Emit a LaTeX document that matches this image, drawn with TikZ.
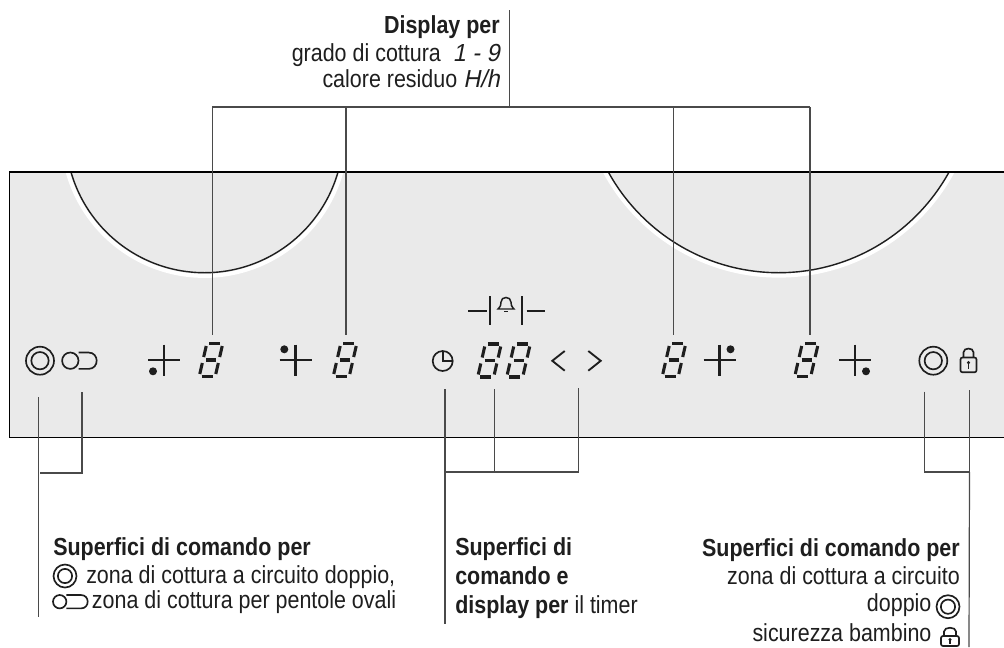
\documentclass[tikz,border=0pt]{standalone}
\usepackage{fontspec}
\setmainfont{Liberation Sans}[FakeStretch=0.87]
\newfontfamily\segfont{Liberation Sans}[FakeSlant=0.2,FakeStretch=0.95]
\definecolor{panel}{HTML}{EAEAEA}
\definecolor{ink}{HTML}{1E1E1E}
\definecolor{conn}{HTML}{4A4A4A}
\newcommand{\ringglyph}[3]{%
  \draw[sym] (#1,#2) circle [radius=#3*0.75pt];
  \draw[sym] (#1,#2) circle [radius=#3*0.62*0.75pt];}
\newcommand{\ovalglyph}[4]{% x of circle centre, y, radius, x of pill end centre
  \draw[sym] (#1,#2) circle [radius=#3*0.75pt];
  \draw[sym] (#1+#3,#2-#3) -- (#4,#2-#3) .. controls (#4+#3*1.33,#2-#3) and (#4+#3*1.33,#2+#3) .. (#4,#2+#3) -- (#1+#3,#2+#3);}
\newcommand{\lockglyph}[5]{% left, right, body top, body bottom, shackle top
  \draw[sym,rounded corners=1.5pt] (#1,#3) rectangle (#2,#4);
  \draw[sym] (#1+3,#3) -- (#1+3,#5+4) .. controls (#1+3,#5-1) and (#2-3,#5-1) .. (#2-3,#5+4) -- (#2-3,#3);
  \fill[ink] ({(#1+#2)/2},{#3+(#4-#3)*0.35}) circle [radius=1.3pt];
  \draw[ink,line width=1pt] ({(#1+#2)/2},{#3+(#4-#3)*0.35}) -- ({(#1+#2)/2},{#3+(#4-#3)*0.75});}
\tikzset{
  x=0.75pt,y=-0.75pt,
  conn line/.style={draw=conn,line width=0.9pt},
  sym/.style={draw=ink,line width=1.25pt},
  txt/.style={inner sep=0pt,text=ink,font=\fontsize{18.5}{22}\selectfont},
  txtL/.style={txt,anchor=base west},
  txtR/.style={txt,anchor=base east},
  digit/.pic={
    \begin{scope}[xslant=0.23,line width=2.3pt,draw=ink]
      \draw (-5.5,-16.5) -- (5.5,-16.5);
      \draw (-5,0) -- (5,0);
      \draw (-5.5,16.5) -- (5.5,16.5);
      \draw (-8,-14) -- (-8,-3);
      \draw (8,-14) -- (8,-3);
      \draw (-8,3) -- (-8,14);
      \draw (8,3) -- (8,14);
    \end{scope}
  },
  crossmark/.pic={
    \draw[draw=ink,line width=1.6pt] (-16,0) -- (16,0);
    \draw[draw=ink,line width=1.6pt] (0,-15.5) -- (0,15.5);
  }
}
\begin{document}
\begin{tikzpicture}
\useasboundingbox (0,0) rectangle (1004,647);
% panel
\fill[panel] (9.5,172) rectangle (1004,437.7);
\begin{scope}
  \clip (9.5,172) rectangle (1004,437.7);
  \draw[white,line width=3pt] (204.5,133.9) circle [radius=106.5pt];
  \draw[white,line width=3pt] (778.7,78.3) circle [radius=148.0pt];
  \draw[ink,line width=1.05pt] (204.5,133.9) circle [radius=104.1pt];
  \draw[ink,line width=1.05pt] (778.7,78.3) circle [radius=145.8pt];
\end{scope}
\draw[black,line width=1.05pt] (1004,172) -- (9.5,172) -- (9.5,437.7) -- (1004,437.7);
% symbols
\ringglyph{40}{360.7}{14}
\ovalglyph{70.3}{360.7}{8.2}{88.5}
\pic at (164,360) {crossmark};
\fill[ink] (153,371.3) circle [radius=3pt];
\pic at (211,360) {digit};
\pic at (295.5,360) {crossmark};
\fill[ink] (284.3,349.3) circle [radius=3pt];
\pic at (345,360) {digit};
\draw[sym] (442.7,361) circle [radius=7.5pt];
\draw[sym] (442.7,351) -- (442.7,361) -- (452.7,361);
\pic at (489.5,360.5) {digit};
\pic at (518.5,360.5) {digit};
\draw[ink,line width=1.4pt] (564.7,351) -- (552.3,360.8) -- (564.7,370.7);
\draw[ink,line width=1.4pt] (588.3,351) -- (600.7,360.8) -- (588.3,370.7);
\pic at (674,360) {digit};
\pic at (719.5,360) {crossmark};
\fill[ink] (730.5,349.3) circle [radius=3pt];
\pic at (806.5,360) {digit};
\pic at (855,360) {crossmark};
\fill[ink] (866,371.3) circle [radius=3pt];
\ringglyph{933.3}{360.7}{14}
\lockglyph{960.5}{976.5}{357.5}{372.3}{348.3}
% bell display
\draw[ink,line width=1.2pt] (468,311) -- (487,311);
\draw[ink,line width=1.2pt] (490,296) -- (490,325);
\draw[ink,line width=1.2pt] (521.7,296) -- (521.7,325);
\draw[ink,line width=1.2pt] (526.7,311) -- (545,311);
\draw[ink,line width=1.1pt] (498,309) .. controls (501,306) and (501,304) .. (501,302) .. controls (501,296) and (511,296) .. (511,302) .. controls (511,304) and (511,306) .. (514,309) -- cycle;
\draw[ink,line width=1.1pt] (504,311.5) -- (508,311.5);
% connector coordinates
\coordinate (topEnd) at (509.5,10);
\coordinate (topBar) at (509.5,107);
\coordinate (barL) at (212.3,107);
\coordinate (barR) at (810,107);
\coordinate (d1) at (212.3,335);
\coordinate (d2) at (346,335);
\coordinate (d3) at (673.8,335);
\coordinate (d4) at (810,335);
\coordinate (b2top) at (346,107);
\coordinate (b3top) at (673.8,107);
\draw[conn line] (topEnd) -- (topBar);
\draw[conn line] (barL) -- (barR);
\draw[conn line] (barL) -- (d1);
\draw[conn line] (b2top) -- (d2);
\draw[conn line] (b3top) -- (d3);
\draw[conn line] (barR) -- (d4);
% left bracket
\coordinate (la) at (38.2,397);
\coordinate (lb) at (38.2,617);
\coordinate (lc) at (82,392);
\coordinate (ld) at (82,473);
\coordinate (le) at (40,473);
\draw[conn line] (la) -- (lb);
\draw[conn line] (lc) -- (ld) -- (le);
% timer bracket
\coordinate (ta) at (445,389);
\coordinate (tb) at (445,624);
\coordinate (tc) at (494.7,389);
\coordinate (td) at (494.7,472);
\coordinate (te) at (578.3,388);
\coordinate (tf) at (578.3,472);
\coordinate (tg) at (445,472);
\draw[conn line] (ta) -- (tb);
\draw[conn line] (tc) -- (td);
\draw[conn line] (te) -- (tf) -- (tg);
% right bracket
\coordinate (ra) at (924.7,391.5);
\coordinate (rb) at (924.7,472);
\coordinate (rc) at (969.5,390);
\coordinate (rd) at (969.5,472);
\coordinate (re) at (969,647);
\draw[conn line] (ra) -- (rb) -- (rd);
\draw[conn line] (rc) -- (rd);
\draw[conn line] (rd) -- (re);
% top text
\node[txtR] (t1) at (500,33.3) {\textbf{Display per}};
\node[txtR] (t2) at (500,61) {grado di cottura\ \ {\segfont 1 - 9}};
\node[txtR] (t3) at (500,87.3) {calore residuo {\segfont H/h}};
% left text
\node[txtL] (l1) at (53,555) {\textbf{Superfici di comando per}};
\node[txtL] (l2) at (86,583.3) {zona di cottura a circuito doppio,};
\node[txtL] (l3) at (91.7,608) {zona di cottura per pentole ovali};
\ringglyph{65}{576}{11.5}
\ovalglyph{59.7}{601.7}{6.7}{81}
% middle text
\node[txtL] (m1) at (455,555) {\textbf{Superfici di}};
\node[txtL] (m2) at (455,584) {\textbf{comando e}};
\node[txtL] (m3) at (455,613) {\textbf{display per} il timer};
% right text
\node[txtR] (r1) at (960,556.7) {\textbf{Superfici di comando per}};
\node[txtR] (r2) at (960,584.3) {zona di cottura a circuito};
\node[txtR] (r3) at (931.7,611) {doppio};
\ringglyph{948}{606.7}{11.5}
\node[txtR] (r4) at (931.7,641.7) {sicurezza bambino};
\lockglyph{941}{959}{636}{646}{627.5}
\end{tikzpicture}
\end{document}
